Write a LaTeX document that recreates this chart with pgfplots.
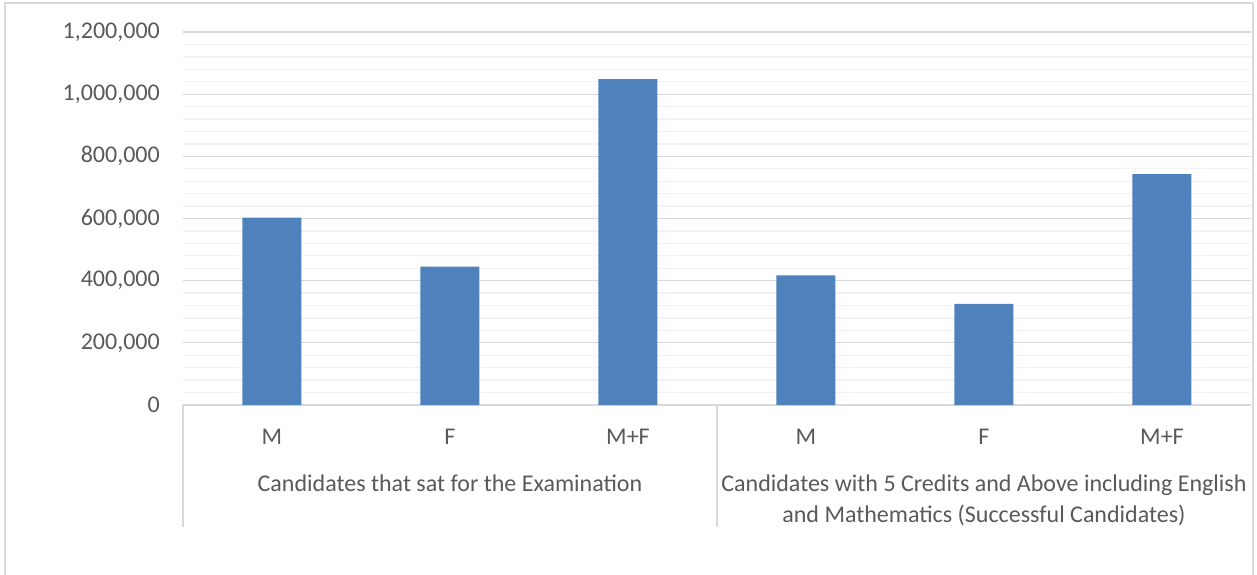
\documentclass[border=0pt]{standalone}
\usepackage{fontspec}
\setmainfont{Carlito}
\usepackage{pgfplots}
\pgfplotsset{compat=1.18}
\definecolor{barblue}{HTML}{4F81BD}
\definecolor{gridmaj}{HTML}{D9D9D9}
\definecolor{gridmin}{HTML}{F2F2F2}
\definecolor{txt}{HTML}{595959}
\begin{document}
\begin{tikzpicture}[font=\fontsize{24}{31}\selectfont]
\useasboundingbox (-183pt,-170pt) rectangle (1074pt,405pt);
% outer chart frame
\draw[gridmaj, line width=1.5pt] (-178pt,-180pt) -- (-178pt,402pt) -- (1070pt,402pt) -- (1070pt,-180pt);
\begin{axis}[
  at={(0,0)}, anchor=south west,
  scale only axis, width=1068pt, height=373pt,
  ybar, bar width=59pt, bar shift=0pt,
  xmin=-0.5, xmax=5.5, enlarge x limits=false,
  ymin=0, ymax=1200000,
  xtick=data, xticklabels={M,F,M+F,M,F,M+F},
  ytick={0,200000,...,1200000},
  minor y tick num=4,
  ymajorgrids, yminorgrids,
  major grid style={gridmaj, line width=1.3pt},
  minor grid style={gridmin, line width=1.3pt},
  axis lines*=left,
  x axis line style={gridmaj, line width=1.3pt, -},
  y axis line style={draw=none},
  major tick length=0pt, minor tick length=0pt,
  tick style={draw=none},
  tick label style={font=\fontsize{24}{29}\selectfont, text=txt},
  xticklabel style={anchor=base, yshift=-39pt},
  yticklabel style={anchor=east, inner sep=0pt, xshift=-23pt},
  scaled y ticks=false,
  yticklabel style={/pgf/number format/.cd, fixed, precision=0, 1000 sep={,}, assume math mode=true},
  clip=false,
]
\addplot[fill=barblue, draw=none] coordinates {
  (0, 603000)
  (1, 445000)
  (2, 1048000)
  (3, 417000)
  (4, 325000)
  (5, 743000)
};
% category group separators
\draw[gridmaj, line width=1.3pt] (axis cs:-0.5,0) -- ([yshift=-122pt]axis cs:-0.5,0);
\draw[gridmaj, line width=1.3pt] (axis cs:2.5,0) -- ([yshift=-122pt]axis cs:2.5,0);
\node[anchor=base, text=txt, yshift=-86pt] at (axis cs:1,0) {Candidates that sat for the Examination};
\node[anchor=base, text=txt, yshift=-86pt] at (axis cs:4,0) {Candidates with 5 Credits and Above including English};
\node[anchor=base, text=txt, yshift=-117pt] at (axis cs:4,0) {and Mathematics (Successful Candidates)};
\end{axis}
\end{tikzpicture}
\end{document}
